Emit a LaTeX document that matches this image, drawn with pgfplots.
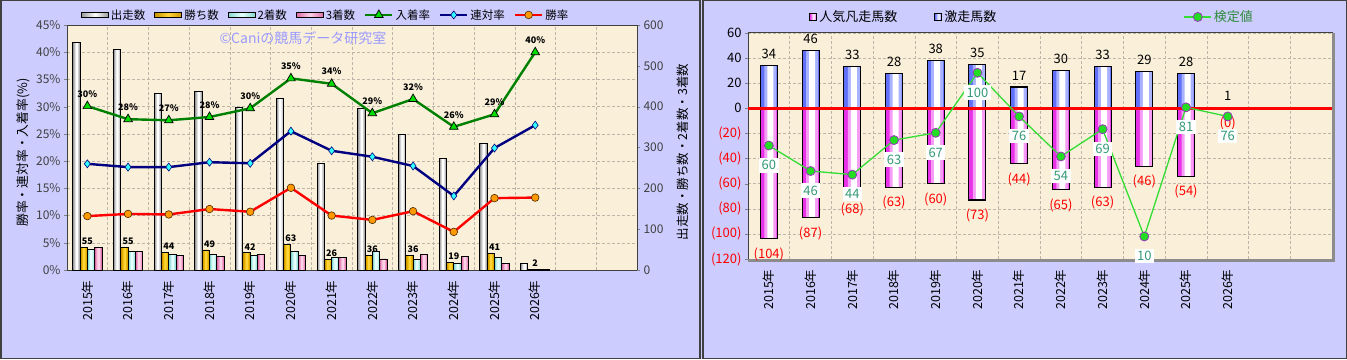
\documentclass[border=0pt]{standalone}
\usepackage{pgfplots}
\usepackage{pgfplotstable}
\pgfplotsset{compat=1.18}
\usepackage{fontspec}
\setmainfont{Noto Sans CJK JP}

\definecolor{lav}{HTML}{CCCCFF}
\definecolor{cream}{HTML}{FAF0DA}
\definecolor{gridc}{HTML}{BDB6A8}
\definecolor{runE}{HTML}{9A9A9A}
\definecolor{runM}{HTML}{D0D0D0}
\definecolor{runC}{HTML}{FFFFFF}
\definecolor{goldE}{HTML}{C99400}
\definecolor{goldM}{HTML}{EDB800}
\definecolor{goldC}{HTML}{FFD43A}
\definecolor{cyanE}{HTML}{86D6D0}
\definecolor{cyanM}{HTML}{B8F0EC}
\definecolor{cyanC}{HTML}{E6FFFD}
\definecolor{pinkE}{HTML}{DC6CA6}
\definecolor{pinkM}{HTML}{F0A0C8}
\definecolor{pinkC}{HTML}{FBD2E6}
\definecolor{posE}{HTML}{6070F8}
\definecolor{posM}{HTML}{A8B2FF}
\definecolor{posC}{HTML}{FFFFFF}
\definecolor{negE}{HTML}{E832E8}
\definecolor{negM}{HTML}{F59CF5}
\definecolor{negC}{HTML}{FFFFFF}
\definecolor{grn}{HTML}{008000}
\definecolor{grnm}{HTML}{00DD00}
\definecolor{navy}{HTML}{000080}
\definecolor{cyanm}{HTML}{33FFFF}
\definecolor{orng}{HTML}{FF9900}
\definecolor{kgreen}{HTML}{33DD33}
\definecolor{kmark}{HTML}{22DD22}
\definecolor{kpurp}{HTML}{9933BB}
\definecolor{kteal}{HTML}{339977}
\definecolor{kleg}{HTML}{2E8B3A}
\definecolor{wm}{HTML}{9999FF}
\definecolor{frame}{HTML}{404040}

\pgfplotstableread{
x run win sec thi place rentai winr plab
0 558 55 51 56 30.1 19.5 9.9 30
1 541 55 46 46 27.7 18.9 10.3 28
2 433 44 39 35 27.5 18.9 10.2 27
3 438 49 39 34 28.1 19.8 11.2 28
4 397 42 35 38 29.7 19.6 10.7 30
5 419 63 45 35 35.2 25.5 15.1 35
6 262 26 30 30 34.2 21.9 10.0 34
7 395 36 45 27 28.8 20.8 9.2 29
8 333 36 26 39 31.4 19.1 10.8 32
9 272 19 17 34 26.3 13.6 7.0 26
10 311 41 30 17 28.6 22.4 13.2 29
11 15 2 2 2 40.0 26.6 13.3 40
}\leftdata

\pgfplotstableread{
x pos neg nl k
0 34 -104 (104) 60
1 46 -87 (87) 46
2 33 -68 (68) 44
3 28 -63 (63) 63
4 38 -60 (60) 67
5 35 -73 (73) 100
6 17 -44 (44) 76
7 30 -65 (65) 54
8 33 -63 (63) 69
9 29 -46 (46) 10
10 28 -54 (54) 81
11 1 -0.001 (0) 76
}\rightdata

% gradient-like bar: #1 shift, #2 full width, #3 mid width, #4 centre width,
% #5 inner shift, #6 column, #7 colour prefix, #8 table
\newcommand{\gbar}[8]{%
  \addplot[ybar, bar width=#2pt, bar shift=#1pt, fill=#7E, draw=none, forget plot] table[x=x,y=#6]{#8};
  \addplot[ybar, bar width=#3pt, bar shift=#5pt, fill=#7M, draw=none, forget plot] table[x=x,y=#6]{#8};
  \addplot[ybar, bar width=#4pt, bar shift=#5pt, fill=#7C, draw=none, forget plot] table[x=x,y=#6]{#8};
}

\pgfplotsset{
  /pgf/number format/assume math mode=true,
  barleg/.style={legend image code/.code={\draw[##1,line width=0.8pt] (0pt,-2.8pt) rectangle (27pt,2.8pt);}},
  sqleg/.style={legend image code/.code={\draw[##1,line width=1pt] (0pt,-3.5pt) rectangle (7pt,3.5pt);}},
  lineleg/.style={legend image code/.code={\draw[mark repeat=2,mark phase=2,##1] plot coordinates {(0pt,0pt) (13.5pt,0pt) (27pt,0pt)};}},
  yrlab/.style={xticklabels={2015年,2016年,2017年,2018年,2019年,2020年,2021年,2022年,2023年,2024年,2025年,2026年}},
}

\begin{document}
\begin{tikzpicture}
\useasboundingbox (0pt,0pt) rectangle (1347pt,359pt);
\fill[lav] (0pt,0pt) rectangle (1347pt,359pt);
\draw[frame,line width=1.5pt] (0.75pt,0.75pt) rectangle (700pt,358.25pt);
\draw[frame,line width=1.5pt] (703pt,0.75pt) rectangle (1346.25pt,358.25pt);

% ---------- LEFT PANEL: background / percent axis ----------
\begin{axis}[
  at={(67pt,89pt)}, anchor=south west, scale only axis, width=570pt, height=245pt,
  xmin=-0.5, xmax=13.5, ymin=0, ymax=45,
  axis background/.style={fill=cream},
  axis line style={frame, line width=1pt},
  xtick={0,...,11}, yrlab,
  xtick style={draw=none},
  minor xtick={0.5,1.5,...,13.5},
  minor tick length=0pt,
  xminorgrids, ymajorgrids,
  grid style={gridc, densely dashed, line width=0.5pt},
  minor grid style={gridc, densely dashed, line width=0.5pt},
  ytick={0,5,...,45},
  yticklabel={\pgfmathprintnumber{\tick}\%},
  ytick pos=left, xtick pos=bottom,
  tick align=outside, major tick length=3pt,
  y tick label style={font=\fontsize{12}{12}\selectfont, text=black!75},
  x tick label style={font=\fontsize{12.5}{12.5}\selectfont, rotate=90, anchor=east, text=black},
  xticklabel shift=4pt,
]
\end{axis}
\node[text=wm, font=\fontsize{14}{14}\selectfont] at (303pt,321pt) {©Caniの競馬データ研究室};

% ---------- LEFT PANEL: bars (right axis) ----------
\begin{axis}[
  at={(67pt,89pt)}, anchor=south west, scale only axis, width=570pt, height=245pt,
  xmin=-0.5, xmax=13.5, ymin=0, ymax=600,
  axis x line=none, axis y line*=right,
  axis line style={frame, line width=1pt},
  ytick={0,100,...,600},
  tick align=outside, major tick length=3pt,
  y tick label style={font=\fontsize{12}{12}\selectfont, text=black!75},
  clip=false,
]
\gbar{-3.65}{7.3}{5.0}{2.4}{-3.3}{win}{gold}{\leftdata}
\addplot[ybar, bar width=7.3pt, bar shift=-3.65pt, draw=black, line width=0.9pt, fill=none, nodes near coords,
  nodes near coords style={font=\fontsize{9}{9}\selectfont\bfseries, text=black, inner sep=2pt}]
  table[x=x,y=win]{\leftdata};
\gbar{3.65}{7.3}{5.0}{2.4}{4.0}{sec}{cyan}{\leftdata}
\addplot[ybar, bar width=7.3pt, bar shift=3.65pt, draw=black, line width=0.9pt, fill=none] table[x=x,y=sec]{\leftdata};
\gbar{10.95}{7.3}{5.0}{2.4}{11.3}{thi}{pink}{\leftdata}
\addplot[ybar, bar width=7.3pt, bar shift=10.95pt, draw=black, line width=0.9pt, fill=none] table[x=x,y=thi]{\leftdata};
\gbar{-10.95}{7.3}{5.0}{2.4}{-10.6}{run}{run}{\leftdata}
\addplot[ybar, bar width=7.3pt, bar shift=-10.95pt, draw=black, line width=0.9pt, fill=none] table[x=x,y=run]{\leftdata};
\end{axis}

% ---------- LEFT PANEL: lines ----------
\begin{axis}[
  at={(67pt,89pt)}, anchor=south west, scale only axis, width=570pt, height=245pt,
  xmin=-0.5, xmax=13.5, ymin=0, ymax=45,
  axis lines=none, clip=false,
  legend columns=7,
  legend cell align=left,
  legend style={at={(0.454,1.041)}, anchor=center, draw=none, fill=none,
    font=\fontsize{11.5}{12}\selectfont, /tikz/every even column/.append style={column sep=7pt}},
]
\addlegendimage{barleg, draw=black, left color=runE, right color=runE, middle color=white}\addlegendentry{出走数}
\addlegendimage{barleg, draw=black, left color=goldE, right color=goldE, middle color=goldC}\addlegendentry{勝ち数}
\addlegendimage{barleg, draw=black, left color=cyanE, right color=cyanE, middle color=cyanC}\addlegendentry{2着数}
\addlegendimage{barleg, draw=black, left color=pinkE, right color=pinkE, middle color=pinkC}\addlegendentry{3着数}
\addplot[lineleg, grn, line width=2.4pt, mark=triangle*, mark size=5pt,
  mark options={fill=grnm, draw=black, line width=0.7pt, solid},
  point meta=explicit symbolic, nodes near coords={\pgfplotspointmeta\%},
  nodes near coords style={font=\fontsize{9}{9}\selectfont\bfseries, text=black, yshift=5pt}]
  table[x=x,y=place,meta=plab]{\leftdata};
\addlegendentry{入着率}
\addplot[lineleg, navy, line width=2.4pt, mark=diamond*, mark size=4pt,
  mark options={fill=cyanm, draw=navy, line width=0.6pt, solid}]
  table[x=x,y=rentai]{\leftdata};
\addlegendentry{連対率}
\addplot[lineleg, red, line width=2.4pt, mark=*, mark size=3.8pt,
  mark options={fill=orng, draw=black!70!orange, line width=0.6pt, solid}]
  table[x=x,y=winr]{\leftdata};
\addlegendentry{勝率}
\end{axis}

\node[rotate=90, font=\fontsize{12.8}{13}\selectfont] at (23pt,206.5pt) {勝率・連対率・入着率(\%)};
\node[rotate=90, font=\fontsize{12.5}{13}\selectfont] at (683pt,207pt) {出走数・勝ち数・2着数・3着数};

% ---------- RIGHT PANEL: bars ----------
\begin{axis}[
  at={(748pt,100pt)}, anchor=south west, scale only axis, width=584pt, height=226pt,
  xmin=-0.5, xmax=13.5, ymin=-120, ymax=60,
  axis background/.style={fill=cream},
  axis line style={frame, line width=1pt},
  xtick={0,...,11}, yrlab, xtick style={draw=none},
  minor xtick={0.5,1.5,...,13.5}, minor tick length=0pt,
  xminorgrids, ymajorgrids,
  grid style={gridc, densely dashed, line width=0.5pt},
  minor grid style={gridc, densely dashed, line width=0.5pt},
  ytick={-120,-100,...,60},
  yticklabels={\textcolor{red}{(120)},\textcolor{red}{(100)},\textcolor{red}{(80)},\textcolor{red}{(60)},\textcolor{red}{(40)},\textcolor{red}{(20)},0,20,40,60},
  ytick pos=left, xtick pos=bottom, tick align=outside, major tick length=3pt,
  y tick label style={font=\fontsize{13}{13}\selectfont},
  x tick label style={font=\fontsize{12.5}{12.5}\selectfont, rotate=90, anchor=east, text=black},
  xticklabel shift=4pt,
  legend columns=2,
  legend cell align=left,
  legend style={at={(0.267,1.071)}, anchor=center, draw=none, fill=none,
    font=\fontsize{13}{13}\selectfont, /tikz/every even column/.append style={column sep=35pt}},
  clip=false,
]
\addlegendimage{sqleg, draw=black, left color=negE, right color=negE, middle color=white}\addlegendentry{人気凡走馬数}
\addlegendimage{sqleg, draw=black, left color=posE, right color=posE, middle color=white}\addlegendentry{激走馬数}
\draw[black!45, line width=2.5pt] ([xshift=1.5pt]rel axis cs:1,1) -- ([xshift=1.5pt,yshift=-1.5pt]rel axis cs:1,0) -- ([yshift=-1.5pt]rel axis cs:0,0);
\gbar{0}{17}{12}{6}{1.5}{neg}{neg}{\rightdata}
\addplot[ybar, bar width=17pt, bar shift=0pt, draw=black, line width=1.1pt, fill=none, forget plot,
  point meta=explicit symbolic, nodes near coords={\pgfplotspointmeta},
  nodes near coords style={text=red, anchor=north, yshift=-5pt, font=\fontsize{13}{13}\selectfont}]
  table[x=x,y=neg,meta=nl]{\rightdata};
\gbar{0}{17}{12}{6}{1.5}{pos}{pos}{\rightdata}
\addplot[ybar, bar width=17pt, bar shift=0pt, draw=black, line width=1.1pt, fill=none, forget plot, nodes near coords,
  nodes near coords style={text=black, yshift=3pt, font=\fontsize{13}{13}\selectfont}]
  table[x=x,y=pos]{\rightdata};
\addplot[red, line width=2.6pt, forget plot] coordinates {(-0.5,0) (13.5,0)};
\end{axis}

% ---------- RIGHT PANEL: 検定値 ----------
\begin{axis}[
  at={(748pt,100pt)}, anchor=south west, scale only axis, width=584pt, height=226pt,
  xmin=-0.5, xmax=13.5, ymin=-2.4, ymax=121.9,
  axis lines=none, clip=false,
  legend style={at={(0.807,1.071)}, anchor=center, draw=none, fill=none,
    font=\fontsize{13}{13}\selectfont, text=kleg},
]
\addplot[kgreen, line width=1.3pt, lineleg, mark=*, mark size=4.5pt,
  mark options={fill=kmark, draw=kpurp, line width=0.8pt}, nodes near coords,
  nodes near coords style={anchor=north, yshift=-12pt, fill=white, text=kteal, inner sep=2.5pt,
    font=\fontsize{13}{13}\selectfont}]
  table[x=x,y=k]{\rightdata};
\addlegendentry{検定値}
\end{axis}
\end{tikzpicture}
\end{document}
